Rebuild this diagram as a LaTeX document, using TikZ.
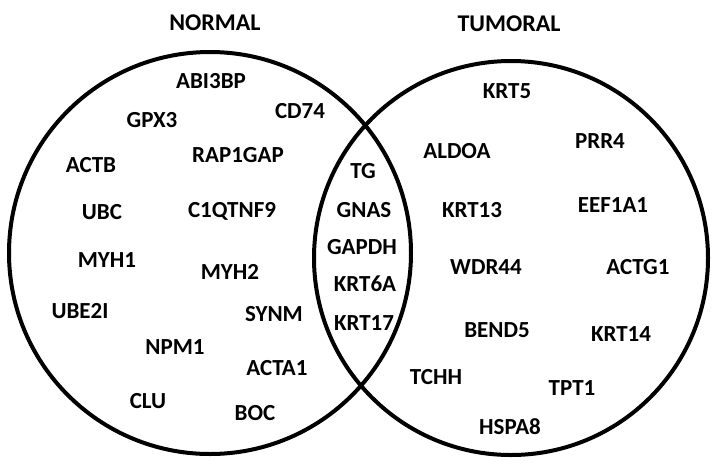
\documentclass[tikz,border=0pt]{standalone}
\usepackage{fontspec}
\setmainfont{Carlito}
\tikzstyle{set} = [circle, draw=black, line width=4pt, inner sep=0pt]
\tikzstyle{setname} = [font=\fontsize{24}{26}\selectfont\bfseries, text centered]
\tikzstyle{gene} = [font=\fontsize{23}{25}\selectfont\bfseries, text centered]

\begin{document}
\begin{tikzpicture}[x=1pt,y=-1pt]
    \useasboundingbox (0,0) rectangle (726,472);

    % Circles
    \node[set, minimum size=402pt] (normalSet) at (210,253) {};
    \node[set, minimum size=394pt] (tumoralSet) at (511,258) {};

    % Titles
    \node[setname] (normalTitle) at (215,23) {NORMAL};
    \node[setname] (tumoralTitle) at (509,24) {TUMORAL};

    % Normal only
    \node[gene] (abi3bp) at (211,81) {ABI3BP};
    \node[gene] (gpx3) at (152,120) {GPX3};
    \node[gene] (cd74) at (300,111) {CD74};
    \node[gene] (rap1gap) at (238,155) {RAP1GAP};
    \node[gene] (actb) at (91,165) {ACTB};
    \node[gene] (ubc) at (102,212) {UBC};
    \node[gene] (c1qtnf9) at (232,211) {C1QTNF9};
    \node[gene] (myh1) at (107,260) {MYH1};
    \node[gene] (myh2) at (230,272) {MYH2};
    \node[gene] (ube2i) at (80,311) {UBE2I};
    \node[gene] (synm) at (274,314) {SYNM};
    \node[gene] (npm1) at (175,347) {NPM1};
    \node[gene] (acta1) at (277,368) {ACTA1};
    \node[gene] (clu) at (148,401) {CLU};
    \node[gene] (boc) at (255,413) {BOC};

    % Both
    \node[gene] (tg) at (363,171) {TG};
    \node[gene] (gnas) at (364,210) {GNAS};
    \node[gene] (gapdh) at (362,247) {GAPDH};
    \node[gene] (krt6a) at (365,284) {KRT6A};
    \node[gene] (krt17) at (364,323) {KRT17};

    % Tumoral only
    \node[gene] (krt5) at (507,91) {KRT5};
    \node[gene] (prr4) at (600,141) {PRR4};
    \node[gene] (aldoa) at (457,151) {ALDOA};
    \node[gene] (krt13) at (472,210) {KRT13};
    \node[gene] (eef1a1) at (613,205) {EEF1A1};
    \node[gene] (wdr44) at (486,267) {WDR44};
    \node[gene] (actg1) at (638,267) {ACTG1};
    \node[gene] (bend5) at (497,330) {BEND5};
    \node[gene] (krt14) at (621,334) {KRT14};
    \node[gene] (tchh) at (436,377) {TCHH};
    \node[gene] (tpt1) at (572,388) {TPT1};
    \node[gene] (hspa8) at (510,427) {HSPA8};

\end{tikzpicture}
\end{document}
